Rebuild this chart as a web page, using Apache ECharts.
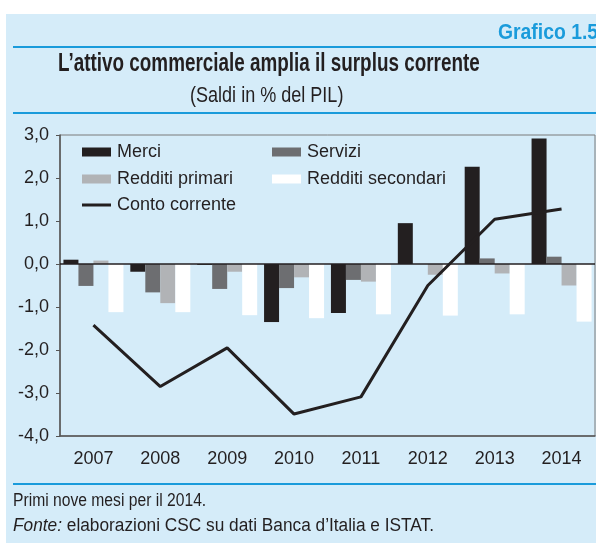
<!DOCTYPE html>
<html>
<head>
<meta charset="utf-8">
<script src="https://cdn.jsdelivr.net/npm/echarts@6/dist/echarts.min.js"></script>
<style>
  html, body { margin: 0; padding: 0; background: #fff; }
  #main { width: 596px; height: 543px; }
</style>
</head>
<body>
<div id="main"></div>
<script>
var years = ['2007', '2008', '2009', '2010', '2011', '2012', '2013', '2014'];
var merci = [0.10, -0.18, -0.02, -1.35, -1.14, 0.95, 2.26, 2.92];
var servizi = [-0.51, -0.66, -0.58, -0.56, -0.37, 0.0, 0.13, 0.17];
var redditiPrimari = [0.08, -0.91, -0.18, -0.31, -0.41, -0.25, -0.22, -0.50];
var redditiSecondari = [-1.12, -1.12, -1.19, -1.26, -1.17, -1.20, -1.17, -1.34];
var contoCorrente = [-1.42, -2.85, -1.95, -3.49, -3.09, -0.50, 1.04, 1.28];

var chartDom = document.getElementById('main');
var myChart = echarts.init(chartDom);
var option;

var FONT = '"Liberation Sans", Arial, sans-serif';
var BLUE = '#1a9bdb';
var INK = '#231f20';

function legendAt(name, left, top, icon, h) {
    return {
        data: [name],
        left: left,
        top: top,
        padding: 0,
        icon: icon,
        itemWidth: 29,
        itemHeight: h || 9,
        itemGap: 0,
        selectedMode: false,
        textStyle: { fontFamily: FONT, fontSize: 18, color: INK, padding: [0, 0, 0, 1] }
    };
}

// condensed text: Liberation Sans squeezed horizontally
function narrowText(str, x, y, font, sx, color, rich) {
    var st = { text: str, x: 0, y: 0, font: font, fill: color || INK, verticalAlign: 'top' };
    if (rich) st.rich = rich;
    return { type: 'text', x: x, y: y, scaleX: sx, style: st, z: 10 };
}

option = {
    animation: false,
    backgroundColor: '#ffffff',
    graphic: [
        { type: 'rect', shape: { x: 6, y: 14, width: 590, height: 529 }, style: { fill: '#d5ecf9' }, z: -10 },
        { type: 'rect', shape: { x: 13, y: 46, width: 583, height: 2 }, style: { fill: BLUE }, z: -5 },
        { type: 'rect', shape: { x: 13, y: 112, width: 583, height: 2 }, style: { fill: BLUE }, z: -5 },
        { type: 'rect', shape: { x: 13, y: 483, width: 583, height: 2 }, style: { fill: BLUE }, z: -5 },
        narrowText('Grafico 1.5', 498, 22, 'bold 22px ' + FONT, 0.88, BLUE),
        narrowText('L\u2019attivo commerciale amplia il surplus corrente', 58, 52, 'bold 25px ' + FONT, 0.755),
        narrowText('(Saldi in % del PIL)', 190, 85, '22px ' + FONT, 0.82),
        narrowText('Primi nove mesi per il 2014.', 13, 492, '18px ' + FONT, 0.87),
        narrowText('{i|Fonte:} elaborazioni CSC su dati Banca d\u2019Italia e ISTAT.', 13, 517, '18px ' + FONT, 0.96, INK,
            { i: { fontStyle: 'italic', fontFamily: FONT, fontSize: 18, fill: INK } })
    ],
    legend: [
        legendAt('Merci', 82, 143, 'rect'),
        legendAt('Servizi', 272, 143, 'rect'),
        legendAt('Redditi primari', 82, 170, 'rect'),
        legendAt('Redditi secondari', 272, 170, 'rect'),
        legendAt('Conto corrente', 82, 196, 'rect', 3)
    ],
    grid: {
        left: 60,
        top: 135,
        right: 1,
        bottom: 107,
        show: true,
        borderColor: '#7a7a7a',
        borderWidth: 1,
        backgroundColor: 'transparent'
    },
    xAxis: {
        type: 'category',
        data: years,
        axisLine: { onZero: false, lineStyle: { color: '#555', width: 1.5 } },
        axisTick: { show: false },
        axisLabel: { fontFamily: FONT, fontSize: 18, color: INK, margin: 14 }
    },
    yAxis: {
        type: 'value',
        min: -4,
        max: 3,
        interval: 1,
        axisLine: { show: true, lineStyle: { color: '#555', width: 1.5 } },
        axisTick: { show: true, length: 4, lineStyle: { color: '#555' } },
        splitLine: { show: false },
        axisLabel: {
            fontFamily: FONT, fontSize: 18, color: INK, margin: 11,
            formatter: function (v) { return v.toFixed(1).replace('.', ','); }
        }
    },
    series: [
        {
            name: 'Merci', type: 'bar', data: merci, barWidth: 15, barGap: '0%',
            itemStyle: { color: INK },
            markLine: {
                silent: true, symbol: 'none', label: { show: false },
                lineStyle: { color: INK, width: 1.5, type: 'solid' },
                data: [{ yAxis: 0 }]
            }
        },
        { name: 'Servizi', type: 'bar', data: servizi, barWidth: 15, barGap: '0%', itemStyle: { color: '#6d6e71' } },
        { name: 'Redditi primari', type: 'bar', data: redditiPrimari, barWidth: 15, barGap: '0%', itemStyle: { color: '#b1b3b6' } },
        { name: 'Redditi secondari', type: 'bar', data: redditiSecondari, barWidth: 15, barGap: '0%', itemStyle: { color: '#ffffff' } },
        {
            name: 'Conto corrente', type: 'line', data: contoCorrente, symbol: 'none', z: 5,
            lineStyle: { color: INK, width: 3 }, itemStyle: { color: INK }
        }
    ]
};

option && myChart.setOption(option);
</script>
</body>
</html>
